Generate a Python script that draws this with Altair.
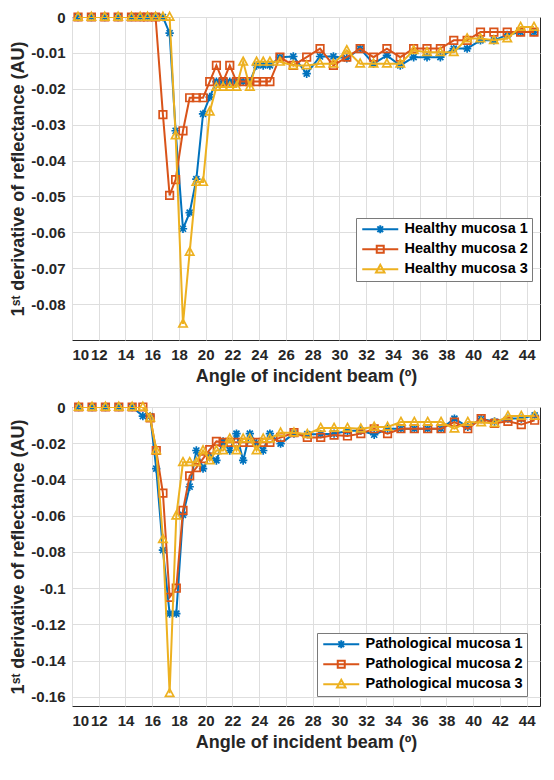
import altair as alt
import pandas as pd

# ---------------- data ----------------
angles_top = [10.45, 11.45, 12.45, 13.45, 14.45, 15.1, 15.65, 16.25, 16.8, 17.3,
              17.75, 18.3, 18.8, 19.3, 19.8, 20.3, 20.8, 21.3, 21.8, 22.3,
              22.8, 23.3, 23.8, 24.3, 24.8, 25.55, 26.55, 27.55, 28.55, 29.55,
              30.55, 31.55, 32.55, 33.55, 34.55, 35.55, 36.55, 37.55, 38.55, 39.55,
              40.55, 41.55, 42.55, 43.55, 44.55]
angles_bottom = [10.5, 11.5, 12.5, 13.5, 14.5, 15.3, 15.85, 16.3, 16.8, 17.3,
                 17.8, 18.3, 18.8, 19.3, 19.8, 20.3, 20.8, 21.3, 21.8, 22.3,
                 22.8, 23.3, 23.8, 24.3, 24.8, 25.6, 26.6, 27.6, 28.6, 29.6,
                 30.6, 31.6, 32.6, 33.6, 34.6, 35.6, 36.6, 37.6, 38.6, 39.6,
                 40.6, 41.6, 42.6, 43.6, 44.6]

healthy_1 = [0, 0, 0, 0, 0, 0, 0, 0, 0, -0.0045,
             -0.0317, -0.059, -0.0545, -0.0452, -0.027, -0.0223, -0.018, -0.018, -0.018, -0.018,
             -0.018, -0.018, -0.0135, -0.0135, -0.0135, -0.0112, -0.011, -0.0158, -0.011, -0.011,
             -0.0115, -0.0088, -0.013, -0.0107, -0.0135, -0.0112, -0.0112, -0.0112, -0.0088, -0.0088,
             -0.0065, -0.0065, -0.005, -0.0042, -0.0042]
healthy_2 = [0, 0, 0, 0, 0, 0, 0, 0, -0.0272, -0.0497,
             -0.0453, -0.0317, -0.0225, -0.0225, -0.0225, -0.018, -0.0135, -0.018, -0.0135, -0.018,
             -0.018, -0.018, -0.018, -0.018, -0.018, -0.0112, -0.0135, -0.0112, -0.0088, -0.0135,
             -0.0112, -0.0088, -0.0112, -0.0088, -0.0112, -0.0088, -0.0088, -0.0088, -0.0065, -0.0065,
             -0.0042, -0.0042, -0.0042, -0.0042, -0.0042]
healthy_3 = [0, 0, 0, 0, 0, 0, 0, 0, 0, 0,
             -0.033, -0.0855, -0.0655, -0.046, -0.046, -0.0264, -0.0195, -0.0195, -0.0195, -0.0195,
             -0.0125, -0.0195, -0.0125, -0.0125, -0.0125, -0.0125, -0.0135, -0.0135, -0.013, -0.013,
             -0.0093, -0.013, -0.013, -0.013, -0.013, -0.0093, -0.0098, -0.0098, -0.0098, -0.006,
             -0.006, -0.0065, -0.006, -0.0028, -0.0028]

patho_1 = [0, 0, 0, 0, 0, -0.005, -0.005, -0.034, -0.079, -0.114,
           -0.114, -0.0595, -0.044, -0.024, -0.034, -0.027, -0.0295, -0.019, -0.024, -0.0147,
           -0.0295, -0.0147, -0.02, -0.024, -0.0147, -0.0202, -0.0147, -0.015, -0.015, -0.0147,
           -0.0133, -0.013, -0.0153, -0.012, -0.012, -0.012, -0.012, -0.012, -0.0064, -0.011,
           -0.0066, -0.008, -0.0064, -0.0064, -0.0046]
patho_2 = [0, 0, 0, 0, 0, 0, -0.006, -0.024, -0.0475, -0.105,
           -0.1, -0.057, -0.038, -0.0335, -0.0285, -0.0235, -0.019, -0.0195, -0.0195, -0.0195,
           -0.0195, -0.0195, -0.0195, -0.0195, -0.0195, -0.0168, -0.0142, -0.0168, -0.0168, -0.0155,
           -0.016, -0.0147, -0.012, -0.0147, -0.012, -0.012, -0.012, -0.012, -0.0083, -0.012,
           -0.0064, -0.009, -0.0079, -0.0097, -0.0073]
patho_3 = [0, 0, 0, 0, 0, 0, -0.006, -0.024, -0.073, -0.158,
           -0.06, -0.0305, -0.0305, -0.0305, -0.024, -0.0295, -0.024, -0.024, -0.0175, -0.024,
           -0.0175, -0.0175, -0.024, -0.0175, -0.0175, -0.0142, -0.0142, -0.015, -0.0116, -0.0116,
           -0.0116, -0.012, -0.011, -0.011, -0.0083, -0.0083, -0.0083, -0.0083, -0.012, -0.0083,
           -0.0085, -0.009, -0.005, -0.005, -0.005]

names_top = ["Healthy mucosa 1", "Healthy mucosa 2", "Healthy mucosa 3"]
names_bottom = ["Pathological mucosa 1", "Pathological mucosa 2", "Pathological mucosa 3"]
x_ticks = list(range(10, 46, 2))
y_ticks_top = [0, -0.01, -0.02, -0.03, -0.04, -0.05, -0.06, -0.07, -0.08]
y_ticks_bottom = [0, -0.02, -0.04, -0.06, -0.08, -0.1, -0.12, -0.14, -0.16]

# ---------------- styling ----------------
colors = ["#0072BD", "#D95319", "#EDB120"]
marker_paths = [
    "M-1,0H1M0,-1V1M-0.72,-0.72L0.72,0.72M-0.72,0.72L0.72,-0.72",
    "M-0.9,-0.9H0.9V0.9H-0.9Z",
    "M0,-1.1L1,0.75H-1Z",
]
# legend symbols: unit = 5 px (symbolSize 100); a 36 px line with the marker in its middle
legend_paths = [
    "M-1,0H6.2M1.8,0H3.4M2.6,-0.8V0.8M2.03,-0.57L3.17,0.57M2.03,0.57L3.17,-0.57",
    "M-1,0H6.2M1.9,-0.7H3.3V0.7H1.9Z",
    "M-1,0H6.2M2.6,-0.9L3.45,0.65H1.75Z",
]
FONT = "Liberation Sans"
X_TITLE = "Angle of incident beam (º)"
Y_TITLE = "1ˢᵗ derivative of reflectance (AU)"
Y_LABELS = "datum.value == 0 ? '0' : '-' + format(-datum.value, '~g')"
PLOT_W = 468


def panel(angles, series, names, ydomain, yticks, height, lx, ly):
    rows = []
    for name, vals in zip(names, series):
        for a, v in zip(angles, vals):
            rows.append({"angle": a, "value": v, "series": name})
    df = pd.DataFrame(rows)

    x = alt.X("angle:Q", scale=alt.Scale(domain=[10, 45], nice=False, zero=False),
              axis=alt.Axis(values=x_ticks, title=X_TITLE))
    y = alt.Y("value:Q", scale=alt.Scale(domain=ydomain, nice=False, zero=False),
              axis=alt.Axis(values=yticks, title=Y_TITLE, labelExpr=Y_LABELS))
    base = alt.Chart(df).encode(x=x, y=y)

    layers = []
    for name, col, path in zip(names, colors, marker_paths):
        sub = base.transform_filter(alt.datum.series == name)
        layers.append(sub.mark_line(color=col, strokeWidth=2, clip=True))
        layers.append(sub.mark_point(color=col, shape=path, filled=False,
                                     size=70, strokeWidth=1.7, opacity=1))

    leg = alt.Legend(title=None, orient="none", legendX=lx, legendY=ly,
                     fillColor="white", strokeColor="#7a7a7a", padding=4,
                     labelFont=FONT, labelFontSize=14.5, labelFontWeight="bold",
                     labelColor="#000000", symbolSize=100, symbolStrokeWidth=2,
                     labelOffset=30, rowPadding=3, labelLimit=300)
    legend_layer = base.transform_filter("false").mark_point(filled=False, opacity=1).encode(
        color=alt.Color("series:N", scale=alt.Scale(domain=names, range=colors), legend=leg),
        shape=alt.Shape("series:N", scale=alt.Scale(domain=names, range=legend_paths), legend=leg),
    )
    layers.append(legend_layer)
    return alt.layer(*layers).properties(width=PLOT_W, height=height)


top = panel(angles_top, [healthy_1, healthy_2, healthy_3], names_top,
            [-0.09, 0], y_ticks_top, 323, 284, 201)
bottom = panel(angles_bottom, [patho_1, patho_2, patho_3], names_bottom,
               [-0.165, 0], y_ticks_bottom, 299, 245, 226)

chart = alt.vconcat(top, bottom, spacing=67, bounds="flush").resolve_scale(
    color="independent", shape="independent"
).resolve_legend(
    color="independent", shape="independent"
).properties(
    padding={"left": 1, "top": 0, "right": 0, "bottom": 0}
).configure_view(
    stroke="#262626", strokeWidth=1
).configure_axis(
    labelFont=FONT, labelFontSize=15, labelFontWeight="bold", labelColor="#262626",
    titleFont=FONT, titleFontSize=18, titleFontWeight="bold", titleColor="#262626",
    grid=True, gridColor="#dedede", gridWidth=1, domain=False, ticks=False,
    labelPadding=7,
).configure_axisX(titlePadding=5).configure_axisY(titlePadding=3)

chart.save("out.html", embed_options={"renderer": "svg", "actions": False})
